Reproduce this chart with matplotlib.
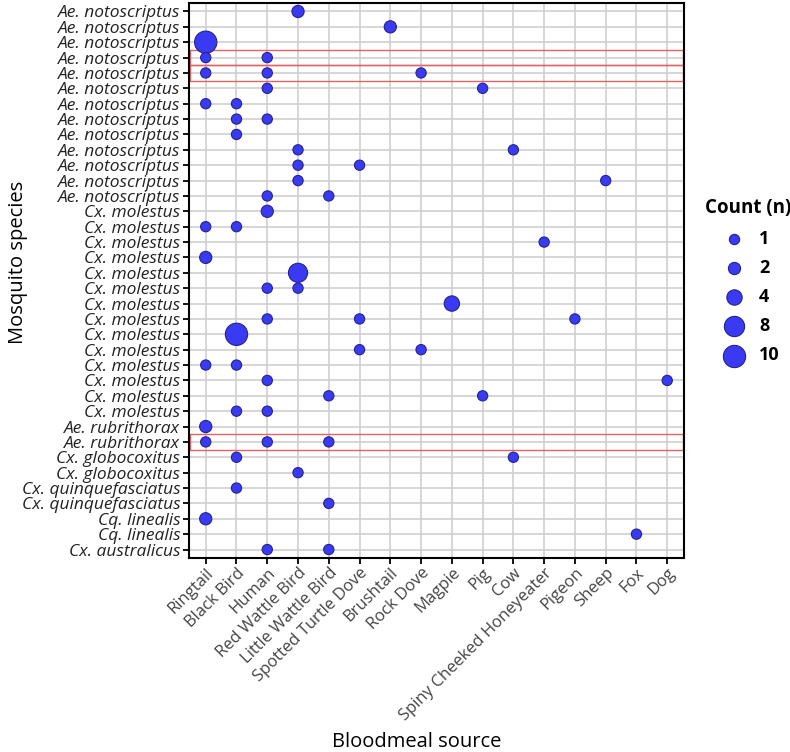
import numpy as np
import matplotlib
matplotlib.use('Agg')
import matplotlib.pyplot as plt
from matplotlib.patches import Rectangle

plt.rcParams['font.family'] = ['Open Sans', 'DejaVu Sans']

# mosquito species, one per row (top to bottom)
species = (['Ae. notoscriptus'] * 13 + ['Cx. molestus'] * 14 +
           ['Ae. rubrithorax'] * 2 + ['Cx. globocoxitus'] * 2 +
           ['Cx. quinquefasciatus'] * 2 + ['Cq. linealis'] * 2 +
           ['Cx. australicus'])

sources = ['Ringtail', 'Black Bird', 'Human', 'Red Wattle Bird',
           'Little Wattle Bird', 'Spotted Turtle Dove', 'Brushtail',
           'Rock Dove', 'Magpie', 'Pig', 'Cow', 'Spiny Cheeked Honeyeater',
           'Pigeon', 'Sheep', 'Fox', 'Dog']

# points: row index, bloodmeal source, count
pt_row = [0, 1, 2, 3, 3, 4, 4, 4, 5, 5, 6, 6, 7, 7, 8, 9, 9, 10, 10,
          11, 11, 12, 12, 13, 14, 14, 15, 16, 17, 18, 18, 19, 20, 20, 20,
          21, 22, 22, 23, 23, 24, 24, 25, 25, 26, 26, 27, 28, 28, 28,
          29, 29, 30, 31, 32, 33, 34, 35, 35]
pt_src = ['Red Wattle Bird', 'Brushtail', 'Ringtail',
          'Ringtail', 'Human',
          'Ringtail', 'Human', 'Rock Dove',
          'Human', 'Pig',
          'Ringtail', 'Black Bird',
          'Black Bird', 'Human',
          'Black Bird',
          'Red Wattle Bird', 'Cow',
          'Red Wattle Bird', 'Spotted Turtle Dove',
          'Red Wattle Bird', 'Sheep',
          'Human', 'Little Wattle Bird',
          'Human',
          'Ringtail', 'Black Bird',
          'Spiny Cheeked Honeyeater',
          'Ringtail',
          'Red Wattle Bird',
          'Human', 'Red Wattle Bird',
          'Magpie',
          'Human', 'Spotted Turtle Dove', 'Pigeon',
          'Black Bird',
          'Spotted Turtle Dove', 'Rock Dove',
          'Ringtail', 'Black Bird',
          'Human', 'Dog',
          'Little Wattle Bird', 'Pig',
          'Black Bird', 'Human',
          'Ringtail',
          'Ringtail', 'Human', 'Little Wattle Bird',
          'Black Bird', 'Cow',
          'Red Wattle Bird',
          'Black Bird',
          'Little Wattle Bird',
          'Ringtail',
          'Fox',
          'Human', 'Little Wattle Bird']
pt_n = [2, 2, 10,
        1, 1,
        1, 1, 1,
        1, 1,
        1, 1,
        1, 1,
        1,
        1, 1,
        1, 1,
        1, 1,
        1, 1,
        2,
        1, 1,
        1,
        2,
        7,
        1, 1,
        4,
        1, 1, 1,
        10,
        1, 1,
        1, 1,
        1, 1,
        1, 1,
        1, 1,
        2,
        1, 1, 1,
        1, 1,
        1,
        1,
        1,
        2,
        1,
        1, 1]

highlight_rows = [3, 4, 28]
legend_counts = [1, 2, 4, 8, 10]


def marker_area(n):
    return 32 + 22.5 * np.asarray(n, dtype=float)


fill = '#3a3af2'
edge = '#24248c'

fig = plt.figure(figsize=(7.9, 7.52), dpi=100)
ax = fig.add_axes([0.239, 0.258, 0.627, 0.738])

xs = [sources.index(s) for s in pt_src]
ax.scatter(xs, pt_row, s=marker_area(pt_n), c=fill, edgecolors=edge,
           linewidths=0.8, zorder=3)

trans = ax.get_yaxis_transform()
for r in highlight_rows:
    ax.add_patch(Rectangle((0.003, r - 0.5), 0.994, 1.0, transform=trans,
                           facecolor='none', edgecolor='#e06464',
                           linewidth=1.0, zorder=2, clip_on=False))

ax.set_xlim(-0.55, len(sources) - 0.45)
ax.set_ylim(len(species) - 0.45, -0.55)
ax.set_xticks(range(len(sources)))
ax.set_xticklabels(sources, rotation=45, ha='right', rotation_mode='anchor',
                   fontsize=12, color='#444444')
ax.set_yticks(range(len(species)))
ax.set_yticklabels(species, fontsize=12.5, style='italic', color='#222222')
ax.grid(True, color='#cfcfcf', linewidth=1.2, zorder=0)
ax.set_axisbelow(True)
ax.tick_params(length=4, width=1.3, color='black', pad=2)
ax.tick_params(axis='x', pad=1)
for sp in ax.spines.values():
    sp.set_linewidth(1.5)
    sp.set_color('black')

fig.text(417 / 790, 1 - 742 / 752, 'Bloodmeal source', fontsize=14.5,
         ha='center', va='center')
fig.text(18 / 790, 1 - 262 / 752, 'Mosquito species', fontsize=14.5,
         rotation=90, ha='center', va='center')

handles = [ax.scatter([], [], s=marker_area(n), c=fill, edgecolors=edge,
                      linewidths=0.8) for n in legend_counts]
fig.legend(handles, [str(n) for n in legend_counts], title='Count (n)',
           loc='upper left', bbox_to_anchor=(0.876, 0.753), frameon=False,
           prop={'weight': 'bold', 'size': 13},
           title_fontproperties={'weight': 'bold', 'size': 13.5},
           labelspacing=0.62, handletextpad=0.4, borderpad=0.2)

fig.savefig('out.png', dpi=100)
